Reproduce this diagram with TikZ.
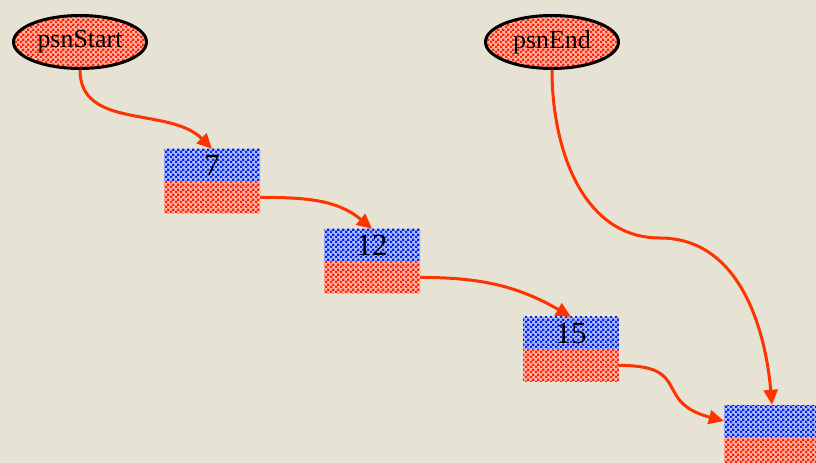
\documentclass[tikz,border=0pt]{standalone}
\usepackage{fontspec}
\setmainfont{Liberation Serif}
\usetikzlibrary{shapes.geometric,patterns,arrows.meta,positioning}
\definecolor{bgbeige}{HTML}{E6E3D5}
\definecolor{linkred}{HTML}{FF3300}
\definecolor{chkred}{HTML}{FF2200}
\definecolor{chkblue}{HTML}{0022EE}
\pgfdeclarepatternformonly{finechecker}{\pgfpointorigin}{\pgfpoint{5bp}{5bp}}{\pgfpoint{5bp}{5bp}}{%
  \pgfpathrectangle{\pgfpointorigin}{\pgfpoint{2.6bp}{2.6bp}}%
  \pgfpathrectangle{\pgfpoint{2.5bp}{2.5bp}}{\pgfpoint{2.6bp}{2.6bp}}%
  \pgfusepath{fill}}
\tikzset{
  ptrname/.style={ellipse, draw=black, line width=3bp, minimum width=133bp, minimum height=53bp, inner sep=0pt, preaction={fill=chkred!35!white}, pattern=finechecker, pattern color=chkred, font=\fontsize{26}{30}\selectfont},
  valbox/.style={rectangle, minimum width=96bp, minimum height=32bp, inner sep=0pt, preaction={fill=chkblue!30!white}, pattern=finechecker, pattern color=chkblue, font=\fontsize{31}{34}\selectfont},
  nextbox/.style={valbox, preaction={fill=chkred!35!white}, pattern color=chkred},
  link/.style={draw=linkred, line width=3bp, -{Triangle[length=15bp,width=14bp]}}
}
\begin{document}
\begin{tikzpicture}[x=1bp,y=1bp]
  \fill[bgbeige] (0,0) rectangle (816,-463);
  \useasboundingbox (0,0) rectangle (816,-463);
  \node[ptrname] (psnStart) at (80,-42) {psnStart};
  \node[ptrname] (psnEnd) at (552,-42) {psnEnd};
  \node[valbox] (v7) at (212,-165) {7};
  \node[nextbox, below=0pt of v7] (p7) {};
  \node[valbox] (v12) at (372,-245) {12};
  \node[nextbox, below=0pt of v12] (p12) {};
  \node[valbox] (v15) at (571,-333) {15};
  \node[nextbox, below=0pt of v15] (p15) {};
  \node[valbox] (vLast) at (772,-421) {};
  \node[nextbox, below=0pt of vLast] (pLast) {};
  \coordinate (bend) at (660,-238);
  \draw[link] (psnStart.south) to[out=-90,in=135] (v7.north);
  \draw[link] (p7.east) to[out=0,in=140] (v12.north);
  \draw[link] (p12.east) to[out=0,in=150] (v15.north);
  \draw[link] (p15.east) to[out=0,in=165,looseness=1.6] (vLast.west);
  \draw[link] (psnEnd.south) to[out=-90,in=180] (bend) to[out=0,in=95] (vLast.north);
\end{tikzpicture}
\end{document}
